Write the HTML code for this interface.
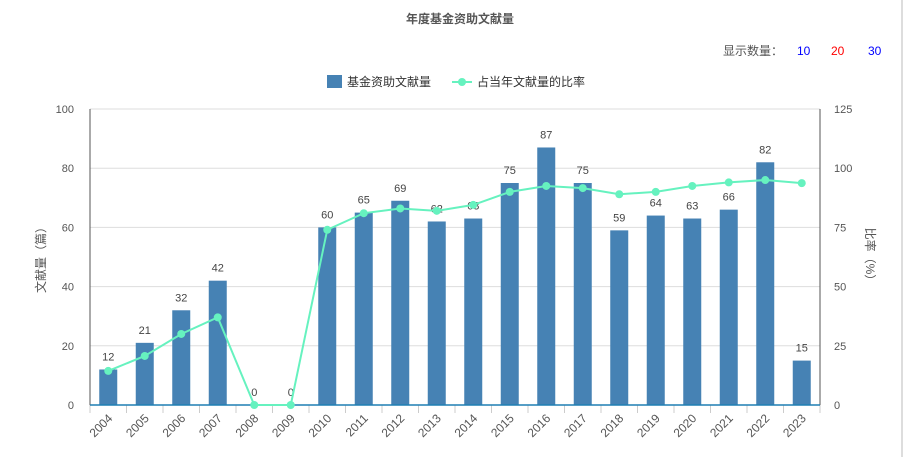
<!DOCTYPE html>
<html><head><meta charset="utf-8"><style>
body{margin:0;background:#fff;width:904px;height:457px;overflow:hidden;font-family:"Liberation Sans","Noto Sans CJK SC",sans-serif}
</style></head><body>
<svg width="904" height="457" font-family="Liberation Sans, Noto Sans CJK SC, sans-serif">
<text x="460" y="23" text-anchor="middle" font-size="12" font-weight="bold" fill="#555">年度基金资助文献量</text>
<text x="723" y="55" font-size="12" fill="#555">显示数量：</text>
<text x="797" y="55" font-size="12" fill="#00f">10</text>
<text x="831" y="55" font-size="12" fill="#f00">20</text>
<text x="868" y="55" font-size="12" fill="#00f">30</text>
<g>
<rect x="327" y="75" width="15" height="13" fill="#4682b4"/>
<text x="347" y="86" font-size="12" fill="#333">基金资助文献量</text>
<line x1="452" y1="82" x2="472" y2="82" stroke="#66f2bf" stroke-width="2"/>
<circle cx="462" cy="82" r="4" fill="#66f2bf"/>
<text x="477" y="86" font-size="12" fill="#333">占当年文献量的比率</text>
</g>
<text transform="translate(45,257) rotate(-90)" text-anchor="middle" font-size="12" fill="#555">文献量（篇）</text>
<text transform="translate(866,257) rotate(90)" text-anchor="middle" font-size="12" fill="#555">比率（%）</text>
<line x1="902" y1="0" x2="902" y2="457" stroke="#ddd" stroke-width="2"/>
<g id="plot"></g>
</svg>
<script>
const years=["2004","2005","2006","2007","2008","2009","2010","2011","2012","2013","2014","2015","2016","2017","2018","2019","2020","2021","2022","2023"];
const counts=[12,21,32,42,0,0,60,65,69,62,63,75,87,75,59,64,63,66,82,15];
const ratios=[14.4,20.7,30,37,0,0,74,81,83,82,84.5,90,92.5,91.6,89,90,92.5,94,95,93.7];
const leftTicks=[0,20,40,60,80,100];
const rightTicks=[0,25,50,75,100,125];
const X0=90,X1=820,Y0=405,Y1=109;
const bw=(X1-X0)/years.length;
const yL=v=>Y0-(v/100)*(Y0-Y1);
const yR=v=>Y0-(v/125)*(Y0-Y1);
const xc=i=>X0+bw*(i+0.5);
const g=document.getElementById('plot');
const NS='http://www.w3.org/2000/svg';
function mk(t,a,txt){const e=document.createElementNS(NS,t);for(const k in a)e.setAttribute(k,a[k]);if(txt!==undefined)e.textContent=txt;g.appendChild(e);return e;}
leftTicks.forEach((v,i)=>{
 const gl=mk('line',{x1:X0,x2:X1,y1:yL(v),y2:yL(v),stroke:'#ddd'});
 
 
 const t=mk('text',{x:X0-16,y:yL(v)+4,'text-anchor':'end','font-size':11,fill:'#555'},v);
 
 
 const r=mk('text',{x:X1+14,y:yR(rightTicks[i])+4,'font-size':11,fill:'#555'},rightTicks[i]);
 
 
});
mk('line',{x1:X0,x2:X0,y1:Y1,y2:Y0,stroke:'#555'});
mk('line',{x1:X1,x2:X1,y1:Y1,y2:Y0,stroke:'#555'});
years.forEach((y,i)=>{
 const b=mk('rect',{x:xc(i)-9,y:yL(counts[i]),width:18,height:Y0-yL(counts[i]),fill:'#4682b4'});
 
 
 const l=mk('text',{x:xc(i),y:yL(counts[i])-9,'text-anchor':'middle','font-size':11,fill:'#444'},counts[i]);
 
 
 mk('line',{x1:X0+bw*i,x2:X0+bw*i,y1:Y0,y2:Y0+8,stroke:'#ccc'});
 const t=mk('text',{transform:`translate(${xc(i)+5},${Y0+14}) rotate(-45)`,'text-anchor':'end','font-size':12,fill:'#555'},y);
 
 
});
mk('line',{x1:X1,x2:X1,y1:Y0,y2:Y0+8,stroke:'#ccc'});
mk('line',{x1:X0,x2:X1,y1:Y0,y2:Y0,stroke:'#1f7fb4','stroke-width':1.5});
const pl=mk('polyline',{points:ratios.map((v,i)=>xc(i)+','+yR(v)).join(' '),fill:'none',stroke:'#66f2bf','stroke-width':2});


ratios.forEach((v,i)=>{
 const c=mk('circle',{cx:xc(i),cy:yR(v),r:4,fill:'#66f2bf'});
 
 
});
</script>
</body></html>
